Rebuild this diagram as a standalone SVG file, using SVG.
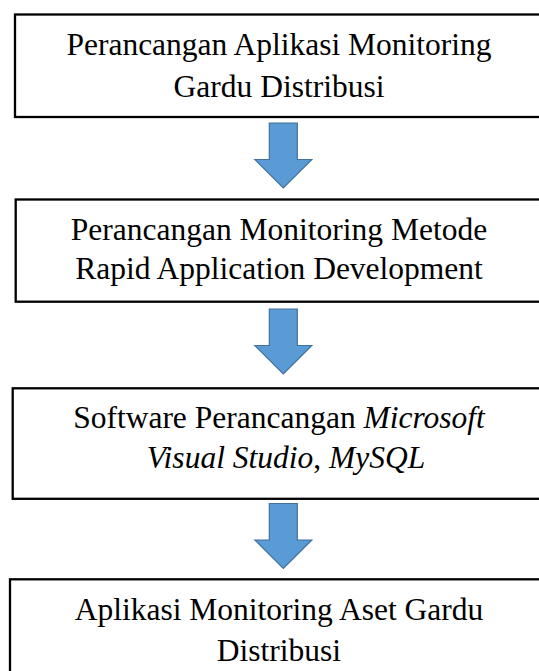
<svg xmlns="http://www.w3.org/2000/svg" width="539" height="671" viewBox="0 0 539 671">
  <style>
    .box { fill: #ffffff; stroke: #000000; stroke-width: 2.3; }
    .label { font-family: "Liberation Serif", "Times New Roman", serif; font-size: 31.5px; fill: #000000; text-anchor: middle; }
    .it { font-style: italic; }
    .arrow { fill: #5B9BD5; stroke: #41719C; stroke-width: 1.2; stroke-linejoin: miter; }
  </style>
  <defs>
    <!-- block arrow pointing down, origin at top of shaft centre -->
    <path id="down" d="M -14 0 L 14 0 L 14 36.5 L 28.5 36.5 L 0 65 L -28.5 36.5 L -14 36.5 Z"/>
  </defs>
  <rect width="539" height="671" fill="#ffffff"/>

  <g id="node-1">
    <rect class="box" x="15" y="14.5" width="540" height="102.5"/>
    <text class="label" x="279" y="55">Perancangan Aplikasi Monitoring</text>
    <text class="label" x="279" y="97">Gardu Distribusi</text>
  </g>

  <g id="node-2">
    <rect class="box" x="15.7" y="199.5" width="540" height="102.2"/>
    <text class="label" x="279" y="240">Perancangan Monitoring Metode</text>
    <text class="label" x="279" y="279">Rapid Application Development</text>
  </g>

  <g id="node-3">
    <rect class="box" x="12.7" y="388.3" width="540" height="110.5"/>
    <text class="label" x="279" y="428">Software Perancangan <tspan class="it">Microsoft</tspan></text>
    <text class="label" x="286" y="468"><tspan class="it">Visual Studio</tspan>, <tspan class="it">MySQL</tspan></text>
  </g>

  <g id="node-4">
    <rect class="box" x="10" y="579.3" width="540" height="110"/>
    <text class="label" x="279" y="620">Aplikasi Monitoring Aset Gardu</text>
    <text class="label" x="279" y="661">Distribusi</text>
  </g>

  <g id="connectors">
    <use href="#down" class="arrow" transform="translate(283.3,123)"/>
    <use href="#down" class="arrow" transform="translate(283.3,309)"/>
    <use href="#down" class="arrow" transform="translate(283.3,503.5)"/>
  </g>
</svg>
